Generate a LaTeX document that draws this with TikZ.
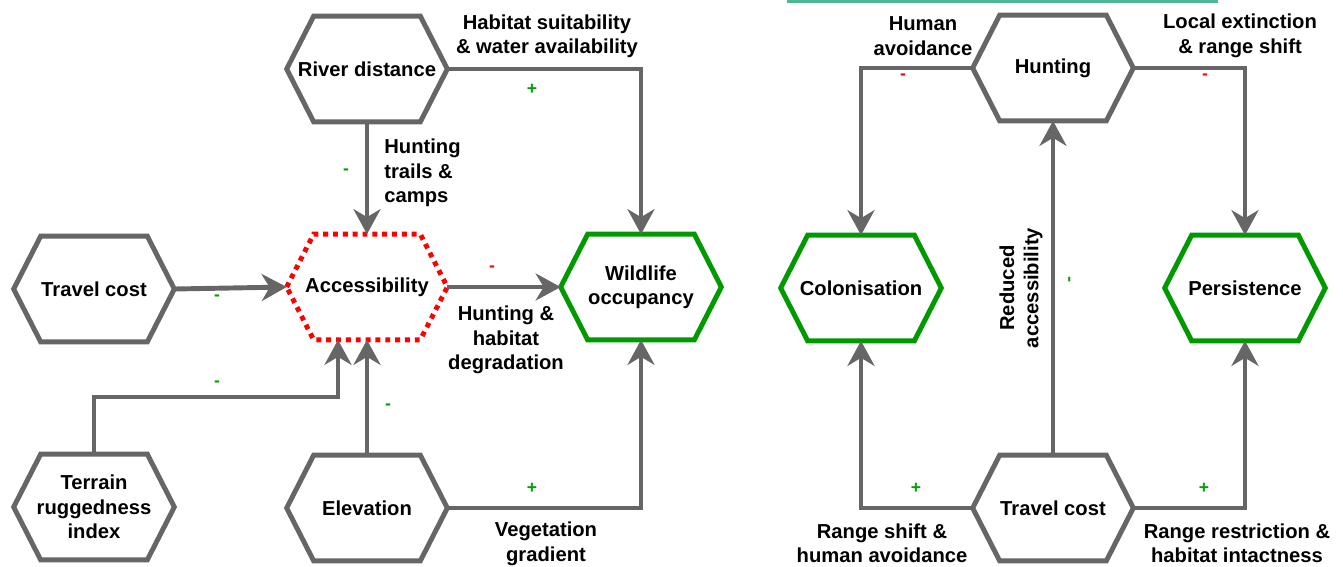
\documentclass[tikz,border=0pt]{standalone}
\usepackage{fontspec}
\setmainfont{Liberation Sans}
\usetikzlibrary{arrows.meta}

\definecolor{linkgray}{HTML}{666666}
\definecolor{okgreen}{HTML}{009900}
\definecolor{signgreen}{HTML}{00A000}
\definecolor{topteal}{RGB}{77,182,150}

% hexagon outline round a named box node
\newcommand{\hexborder}[2]{%
  \draw[#2] (#1.west) -- ([xshift=0.54cm]#1.north west) -- ([xshift=-0.54cm]#1.north east)
    -- (#1.east) -- ([xshift=-0.54cm]#1.south east) -- ([xshift=0.54cm]#1.south west) -- cycle;}

\begin{document}
\begin{tikzpicture}[
    x=0.02cm, y=-0.02cm,
    hexbox/.style={rectangle, minimum width=3.2cm, minimum height=2.1cm,
                   align=center, inner sep=0pt,
                   font=\fontsize{11.5}{13.9}\selectfont\bfseries},
    hexline/.style={draw=linkgray, line width=2.8pt, line join=miter},
    outcomeline/.style={hexline, draw=okgreen},
    hubline/.style={hexline, draw=red, dash pattern=on 2.8pt off 2.8pt},
    link/.style={draw=linkgray, line width=2.8pt,
                 -{Stealth[length=0.5cm, width=0.54cm, inset=0.16cm]}},
    why/.style={align=center, inner sep=0pt, font=\fontsize{11.5}{13.9}\selectfont\bfseries},
    plussign/.style={text=signgreen, inner sep=0pt, font=\fontsize{10}{10}\selectfont\bfseries},
    minussign/.style={text=red, inner sep=0pt, font=\fontsize{10}{10}\selectfont\bfseries},
]
\useasboundingbox (0,0) rectangle (1343,566);
\draw[topteal, line width=1.7pt] (787,1) -- (1218,1);

% left panel: drivers of occupancy
\node[hexbox] (river)    at (367,69)  {River distance};
\node[hexbox] (travel)   at (94,289)  {Travel cost};
\node[hexbox] (access)   at (367,287) {Accessibility};
\node[hexbox] (wildlife) at (641,287) {Wildlife\\occupancy};
\node[hexbox] (terrain)  at (94,507)  {Terrain\\ruggedness\\index};
\node[hexbox] (elev)     at (367,508) {Elevation};
\coordinate (tbend) at (338,397);

% right panel: colonisation and persistence
\node[hexbox] (hunt)    at (1053,68)  {Hunting};
\node[hexbox] (colon)   at (861,288)  {Colonisation};
\node[hexbox] (persist) at (1245,288) {Persistence};
\node[hexbox] (travelR) at (1053,508) {Travel cost};

\foreach \n in {river, travel, terrain, elev, hunt, travelR}
  \hexborder{\n}{hexline};
\foreach \n in {wildlife, colon, persist}
  \hexborder{\n}{outcomeline};
\hexborder{access}{hubline}

\draw[link] (river.east) -| (wildlife.north);
\draw[link] (river.south) -- (access.north);
\draw[link] (travel.east) -- (access.west);
\draw[link] (access.east) -- (wildlife.west);
\draw[link] (terrain.north) |- (tbend) -- (tbend |- access.south);
\draw[link] (elev.north) -- (access.south);
\draw[link] (elev.east) -| (wildlife.south);

\node[why] (habitat) at (547,36) {Habitat suitability\\\& water availability};
\node[plussign] (s1) at (532,89) {+};
\node[why, anchor=west, align=left] (trails) at (384,173) {Hunting\\trails \&\\camps};
\node[plussign] (s2) at (346,172) {-};
\node[plussign] (s3) at (217,298) {-};
\node[minussign] (s4) at (492,269) {-};
\node[why] (degrad) at (506,340) {Hunting \&\\habitat\\degradation};
\node[plussign] (s5) at (217,384) {-};
\node[plussign] (s6) at (388,407) {-};
\node[plussign] (s7) at (532,488) {+};
\node[why] (vegetation) at (546,544) {Vegetation\\gradient};

\draw[link] (hunt.west) -| (colon.north);
\draw[link] (hunt.east) -| (persist.north);
\draw[link] (travelR.north) -- (hunt.south);
\draw[link] (travelR.west) -| (colon.south);
\draw[link] (travelR.east) -| (persist.south);

\node[why] (avoid) at (923,36) {Human\\avoidance};
\node[minussign] (s8) at (903,77) {-};
\node[why] (extinct) at (1240,36) {Local extinction\\\& range shift};
\node[minussign] (s9) at (1205,77) {-};
\node[why, rotate=90] (reduced) at (1021,288) {Reduced\\accessibility};
\node[plussign, rotate=90] (s10) at (1071,280) {-};
\node[plussign] (s11) at (916,488) {+};
\node[plussign] (s12) at (1204,488) {+};
\node[why] (shift) at (882,543) {Range shift \&\\human avoidance};
\node[why] (restrict) at (1237,543) {Range restriction \&\\habitat intactness};
\end{tikzpicture}
\end{document}
